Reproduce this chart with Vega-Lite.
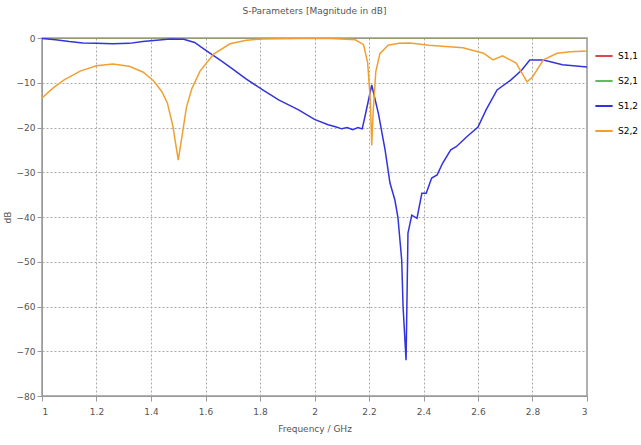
{
  "$schema": "https://vega.github.io/schema/vega-lite/v6.json",
  "autosize": {"type": "none"},
  "width": 545,
  "height": 358,
  "padding": {"left": 42, "top": 38, "right": 54, "bottom": 49},
  "background": "white",
  "title": {"text": "S-Parameters [Magnitude in dB]", "fontSize": 9, "font": "DejaVu Sans", "fontWeight": "normal", "color": "#555555", "offset": 18},
  "config": {
    "view": {"stroke": "#999999", "strokeWidth": 1.5},
    "axis": {"labelFont": "DejaVu Sans", "labelFontSize": 9, "labelColor": "#555555", "titleFont": "DejaVu Sans", "titleFontSize": 9, "titleFontWeight": "normal", "titleColor": "#555555", "domainColor": "#999999", "tickColor": "#999999", "gridColor": "#aaaaaa", "gridDash": [2, 2], "gridWidth": 1}
  },
  "data": {"values": [
    {"f": 1.0, "db": 0, "s": "S1,1"}, {"f": 3.0, "db": 0, "s": "S1,1"},
    {"f": 1.0, "db": 0, "s": "S2,1"}, {"f": 3.0, "db": 0, "s": "S2,1"},
    {"f": 1.0, "db": -0.1, "s": "S1,2"}, {"f": 1.05, "db": -0.4, "s": "S1,2"}, {"f": 1.1, "db": -0.8, "s": "S1,2"}, {"f": 1.15, "db": -1.1, "s": "S1,2"}, {"f": 1.2, "db": -1.2, "s": "S1,2"}, {"f": 1.26, "db": -1.3, "s": "S1,2"}, {"f": 1.32, "db": -1.2, "s": "S1,2"}, {"f": 1.37, "db": -0.8, "s": "S1,2"}, {"f": 1.42, "db": -0.5, "s": "S1,2"}, {"f": 1.47, "db": -0.2, "s": "S1,2"}, {"f": 1.52, "db": -0.3, "s": "S1,2"}, {"f": 1.56, "db": -1.0, "s": "S1,2"}, {"f": 1.6, "db": -2.7, "s": "S1,2"}, {"f": 1.65, "db": -4.8, "s": "S1,2"}, {"f": 1.69, "db": -6.5, "s": "S1,2"}, {"f": 1.75, "db": -9.2, "s": "S1,2"}, {"f": 1.81, "db": -11.6, "s": "S1,2"}, {"f": 1.87, "db": -13.9, "s": "S1,2"}, {"f": 1.94, "db": -16, "s": "S1,2"}, {"f": 2.0, "db": -18.2, "s": "S1,2"}, {"f": 2.05, "db": -19.4, "s": "S1,2"}, {"f": 2.08, "db": -19.9, "s": "S1,2"}, {"f": 2.1, "db": -20.3, "s": "S1,2"}, {"f": 2.12, "db": -20.0, "s": "S1,2"}, {"f": 2.14, "db": -20.5, "s": "S1,2"}, {"f": 2.16, "db": -20.0, "s": "S1,2"}, {"f": 2.175, "db": -20.3, "s": "S1,2"}, {"f": 2.185, "db": -17.6, "s": "S1,2"}, {"f": 2.21, "db": -10.5, "s": "S1,2"}, {"f": 2.235, "db": -17, "s": "S1,2"}, {"f": 2.259, "db": -25, "s": "S1,2"}, {"f": 2.277, "db": -32.4, "s": "S1,2"}, {"f": 2.295, "db": -36.2, "s": "S1,2"}, {"f": 2.306, "db": -40, "s": "S1,2"}, {"f": 2.32, "db": -49.6, "s": "S1,2"}, {"f": 2.325, "db": -60, "s": "S1,2"}, {"f": 2.336, "db": -72, "s": "S1,2"}, {"f": 2.34, "db": -56, "s": "S1,2"}, {"f": 2.343, "db": -43.6, "s": "S1,2"}, {"f": 2.357, "db": -39.6, "s": "S1,2"}, {"f": 2.376, "db": -40.3, "s": "S1,2"}, {"f": 2.394, "db": -34.7, "s": "S1,2"}, {"f": 2.41, "db": -34.7, "s": "S1,2"}, {"f": 2.43, "db": -31.3, "s": "S1,2"}, {"f": 2.45, "db": -30.6, "s": "S1,2"}, {"f": 2.47, "db": -28, "s": "S1,2"}, {"f": 2.5, "db": -25, "s": "S1,2"}, {"f": 2.52, "db": -24.3, "s": "S1,2"}, {"f": 2.56, "db": -22, "s": "S1,2"}, {"f": 2.6, "db": -19.9, "s": "S1,2"}, {"f": 2.63, "db": -16, "s": "S1,2"}, {"f": 2.67, "db": -11.6, "s": "S1,2"}, {"f": 2.72, "db": -9.4, "s": "S1,2"}, {"f": 2.76, "db": -7.2, "s": "S1,2"}, {"f": 2.79, "db": -4.9, "s": "S1,2"}, {"f": 2.84, "db": -4.9, "s": "S1,2"}, {"f": 2.91, "db": -6, "s": "S1,2"}, {"f": 3.0, "db": -6.5, "s": "S1,2"},
    {"f": 1.0, "db": -13.4, "s": "S2,2"}, {"f": 1.04, "db": -11.2, "s": "S2,2"}, {"f": 1.08, "db": -9.4, "s": "S2,2"}, {"f": 1.14, "db": -7.4, "s": "S2,2"}, {"f": 1.2, "db": -6.2, "s": "S2,2"}, {"f": 1.26, "db": -5.8, "s": "S2,2"}, {"f": 1.32, "db": -6.3, "s": "S2,2"}, {"f": 1.37, "db": -7.6, "s": "S2,2"}, {"f": 1.41, "db": -9.6, "s": "S2,2"}, {"f": 1.44, "db": -12, "s": "S2,2"}, {"f": 1.46, "db": -14.5, "s": "S2,2"}, {"f": 1.48, "db": -19.6, "s": "S2,2"}, {"f": 1.5, "db": -27.3, "s": "S2,2"}, {"f": 1.515, "db": -21.5, "s": "S2,2"}, {"f": 1.53, "db": -15.5, "s": "S2,2"}, {"f": 1.55, "db": -11.3, "s": "S2,2"}, {"f": 1.58, "db": -7.4, "s": "S2,2"}, {"f": 1.63, "db": -3.6, "s": "S2,2"}, {"f": 1.69, "db": -1.3, "s": "S2,2"}, {"f": 1.75, "db": -0.5, "s": "S2,2"}, {"f": 1.81, "db": -0.2, "s": "S2,2"}, {"f": 1.95, "db": -0.1, "s": "S2,2"}, {"f": 2.06, "db": -0.1, "s": "S2,2"}, {"f": 2.15, "db": -0.4, "s": "S2,2"}, {"f": 2.18, "db": -1.5, "s": "S2,2"}, {"f": 2.195, "db": -5.5, "s": "S2,2"}, {"f": 2.205, "db": -14, "s": "S2,2"}, {"f": 2.21, "db": -24, "s": "S2,2"}, {"f": 2.215, "db": -16.8, "s": "S2,2"}, {"f": 2.225, "db": -7.5, "s": "S2,2"}, {"f": 2.24, "db": -3.5, "s": "S2,2"}, {"f": 2.27, "db": -1.6, "s": "S2,2"}, {"f": 2.31, "db": -1.2, "s": "S2,2"}, {"f": 2.35, "db": -1.1, "s": "S2,2"}, {"f": 2.42, "db": -1.6, "s": "S2,2"}, {"f": 2.545, "db": -2.2, "s": "S2,2"}, {"f": 2.62, "db": -3.4, "s": "S2,2"}, {"f": 2.655, "db": -4.9, "s": "S2,2"}, {"f": 2.69, "db": -4, "s": "S2,2"}, {"f": 2.74, "db": -5.6, "s": "S2,2"}, {"f": 2.78, "db": -9.8, "s": "S2,2"}, {"f": 2.8, "db": -8.7, "s": "S2,2"}, {"f": 2.84, "db": -4.9, "s": "S2,2"}, {"f": 2.89, "db": -3.4, "s": "S2,2"}, {"f": 2.94, "db": -3.1, "s": "S2,2"}, {"f": 3.0, "db": -2.9, "s": "S2,2"}
  ]},
  "mark": {"type": "line", "strokeWidth": 1.5, "clip": true},
  "encoding": {
    "x": {"field": "f", "type": "quantitative", "scale": {"domain": [1, 3], "nice": false, "zero": false}, "axis": {"values": [1, 1.2, 1.4, 1.6, 1.8, 2, 2.2, 2.4, 2.6, 2.8, 3], "format": "~g", "title": "Frequency / GHz", "titlePadding": 8, "labelPadding": 6}},
    "y": {"field": "db", "type": "quantitative", "scale": {"domain": [-80, 0], "nice": false}, "axis": {"values": [0, -10, -20, -30, -40, -50, -60, -70, -80], "title": "dB", "titlePadding": 4}},
    "color": {"field": "s", "type": "nominal", "scale": {"domain": ["S1,1", "S2,1", "S1,2", "S2,2"], "range": ["#d84a4a", "#5cbf5c", "#3333dd", "#f0a030"]},
      "legend": {"title": null, "orient": "none", "legendX": 552, "legendY": 8, "symbolType": "stroke", "symbolSize": 300, "symbolStrokeWidth": 2, "labelFont": "DejaVu Sans", "labelFontSize": 9, "rowPadding": 10, "labelOffset": 4,
        "encode": {"labels": {"update": {"fill": {"scale": "color", "field": "value"}}}}}},
    "order": {"field": "s", "type": "nominal"},
    "opacity": {"condition": {"test": "datum.s === 'S1,1' || datum.s === 'S2,1'", "value": 0.5}, "value": 1}
  }
}
